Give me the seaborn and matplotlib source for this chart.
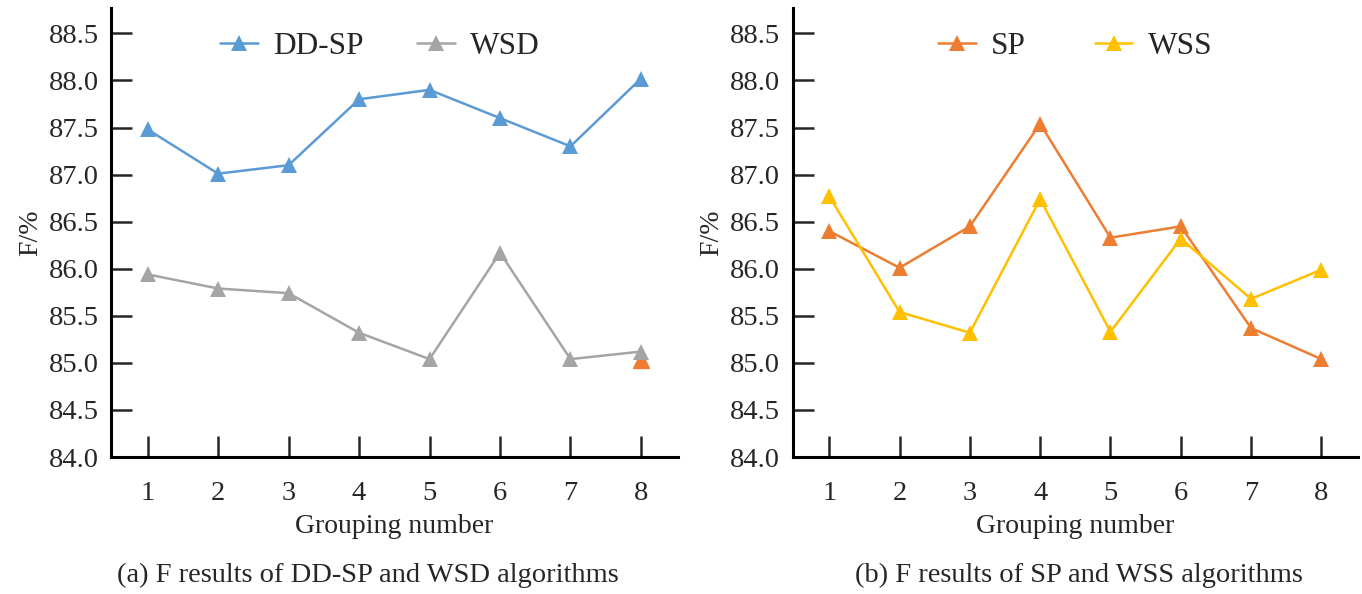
import matplotlib
matplotlib.use("Agg")
import matplotlib.pyplot as plt
import seaborn as sns
import pandas as pd

groups = [1, 2, 3, 4, 5, 6, 7, 8]
dd_sp = [87.48, 87.01, 87.10, 87.80, 87.90, 87.60, 87.30, 88.02]
wsd = [85.94, 85.79, 85.74, 85.32, 85.04, 86.17, 85.04, 85.12]
stray_x = [8]
stray_y = [85.03]
sp = [86.40, 86.01, 86.45, 87.54, 86.33, 86.45, 85.37, 85.04]
wss = [86.77, 85.54, 85.32, 86.74, 85.33, 86.32, 85.68, 85.99]
yticks = [84.0, 84.5, 85.0, 85.5, 86.0, 86.5, 87.0, 87.5, 88.0, 88.5]
captions = ["(a) F results of DD-SP and WSD algorithms", "(b) F results of SP and WSS algorithms"]

sns.set_style("ticks")
plt.rcParams['font.family'] = ['Liberation Serif', 'DejaVu Serif']
plt.rcParams['mathtext.fontset'] = 'stix'

BLUE = "#5B9BD5"; GRAY = "#A5A5A5"; ORANGE = "#ED7D31"; YELLOW = "#FFC000"

fig = plt.figure(figsize=(13.62, 5.94), dpi=100)
ax1 = fig.add_axes([0.0815, 0.2306, 0.416, 0.756])
ax2 = fig.add_axes([0.582, 0.2306, 0.415, 0.756])

def draw(ax, s1, s2, n1, n2, c1, c2, stray=False, legx=0.48, colsp=1.7):
    df = pd.DataFrame({"g": groups * 2, "v": s1 + s2, "s": [n1] * 8 + [n2] * 8})
    if stray:
        ax.plot(stray_x, stray_y, linestyle="none", marker="^", markersize=11, color=ORANGE, zorder=1)
    sns.lineplot(data=df, x="g", y="v", hue="s", palette={n1: c1, n2: c2}, marker="^",
                 markersize=11, markeredgewidth=0, linewidth=1.8, ax=ax, zorder=2)
    ax.set_xlim(0.48, 8.52)
    ax.set_ylim(84.0, 88.77)
    ax.set_xticks(groups)
    ax.set_yticks(yticks)
    ax.set_yticklabels([f"{t:.1f}" for t in yticks])
    ax.tick_params(axis="both", direction="in", length=15, width=1.8, labelsize=20.5, pad=9)
    ax.tick_params(axis="x", pad=17)
    for sp_ in ["top", "right"]:
        ax.spines[sp_].set_visible(False)
    for sp_ in ["left", "bottom"]:
        ax.spines[sp_].set_linewidth(2.2)
        ax.spines[sp_].set_color("black")
    ax.set_xlabel("Grouping number", fontsize=20, labelpad=6)
    ax.set_ylabel("F/%", fontsize=20, labelpad=4)
    ax.legend(loc="upper center", ncol=2, frameon=False, fontsize=22.5,
              bbox_to_anchor=(legx, 1.01), handlelength=1.2, columnspacing=colsp,
              handletextpad=0.5)

draw(ax1, dd_sp, wsd, "DD-SP", "WSD", BLUE, GRAY, stray=True, legx=0.475, colsp=1.7)
draw(ax2, sp, wss, "SP", "WSS", ORANGE, YELLOW, legx=0.5, colsp=2.2)

fig.text(0.27, 0.032, captions[0], ha="center", va="center", fontsize=20.5)
fig.text(0.792, 0.032, captions[1], ha="center", va="center", fontsize=20.5)

fig.savefig("out.png", dpi=100)
